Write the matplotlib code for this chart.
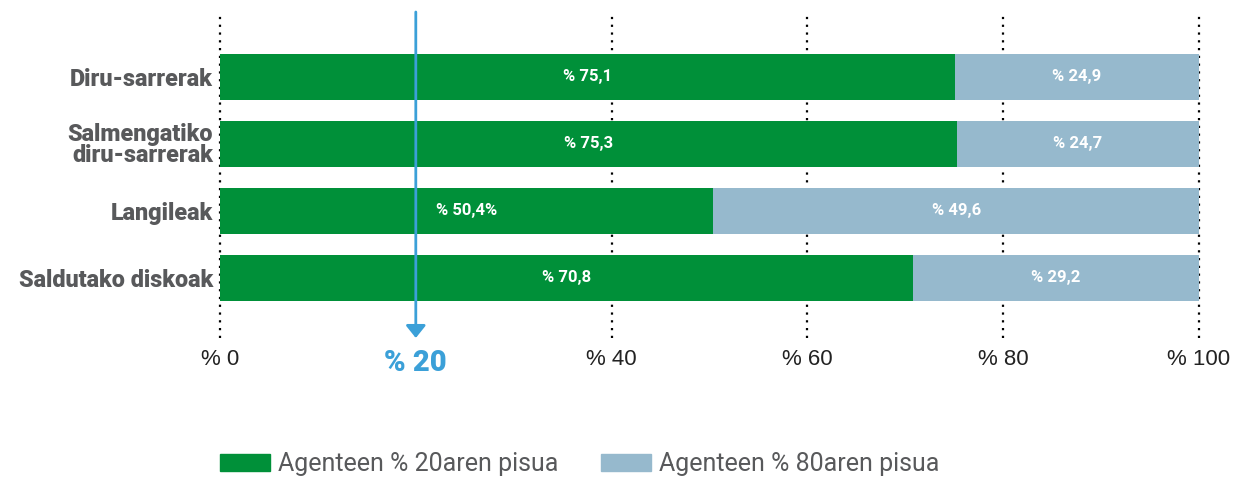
import numpy as np
import matplotlib.pyplot as plt
from matplotlib.patches import Patch

# datuak
categories = ['Diru-sarrerak', 'Salmengatiko\ndiru-sarrerak', 'Langileak', 'Saldutako diskoak']
top20 = [75.1, 75.3, 50.4, 70.8]
rest80 = [24.9, 24.7, 49.6, 29.2]
top20_labels = ['% 75,1', '% 75,3', '% 50,4%', '% 70,8']
rest80_labels = ['% 24,9', '% 24,7', '% 49,6', '% 29,2']
ticks = [0, 20, 40, 60, 80, 100]
tick_labels = ['% 0', '% 20', '% 40', '% 60', '% 80', '% 100']
legend_labels = ['Agenteen % 20aren pisua', 'Agenteen % 80aren pisua']

green = '#009039'
lblue = '#96b9cd'
arrow_blue = '#3ba0d8'
gray = '#58595b'

fig = plt.figure(figsize=(12.47, 4.88), dpi=100)
ax = fig.add_axes([220/1247, 150/488, 979/1247, 326/488])

y = np.arange(len(categories))
h = 0.69
ax.barh(y, top20, height=h, color=green, zorder=2)
ax.barh(y, rest80, left=top20, height=h, color=lblue, zorder=2)

lab_font = dict(family='Roboto', weight='bold', color='white', fontsize=12,
                ha='center', va='center', zorder=3)
for i in range(len(categories)):
    ax.text(top20[i] / 2, y[i], top20_labels[i], **lab_font)
    ax.text(top20[i] + rest80[i] / 2, y[i], rest80_labels[i], **lab_font)

ax.set_xlim(0, 100)
ax.set_ylim(3.9, -0.97)

# dotted grid lines
for t in ticks:
    if t == 20:
        continue
    ax.vlines(t, 3.9, -0.97, colors='black', linewidth=1.6,
              linestyles=(0, (1, 2.5)), zorder=1, clip_on=False)

# blue arrow at 20
ax.annotate('', xy=(20, 3.9), xytext=(20, -0.97),
            arrowprops=dict(arrowstyle='-|>,head_length=0.75,head_width=0.6',
                            color=arrow_blue, lw=2, shrinkA=0, shrinkB=0),
            zorder=4, annotation_clip=False)

ax.set_yticks(y)
ax.set_yticklabels(categories, fontsize=16.8, fontweight='black', color=gray,
                   family='Roboto', linespacing=0.85)
ax.tick_params(axis='y', length=0, pad=5)

ax.set_xticks(ticks)
ax.set_xticklabels(tick_labels, fontsize=16, color='#222222', family='Liberation Sans')
ax.tick_params(axis='x', length=0, pad=8)
tl = ax.get_xticklabels()[1]
tl.set_color(arrow_blue)
tl.set_family('Roboto')
tl.set_fontweight('black')
tl.set_fontsize(21)

for s in ax.spines.values():
    s.set_visible(False)

handles = [Patch(color=green), Patch(color=lblue)]
leg = fig.legend(handles, legend_labels, loc='center left',
                 bbox_to_anchor=(197/1247, 24/488),
                 ncol=2, frameon=False, handlelength=2.0, handleheight=0.65,
                 handletextpad=0.33, columnspacing=1.7,
                 prop=dict(family='Roboto', size=18))
for t in leg.get_texts():
    t.set_color(gray)

fig.savefig('out.png', dpi=100)
